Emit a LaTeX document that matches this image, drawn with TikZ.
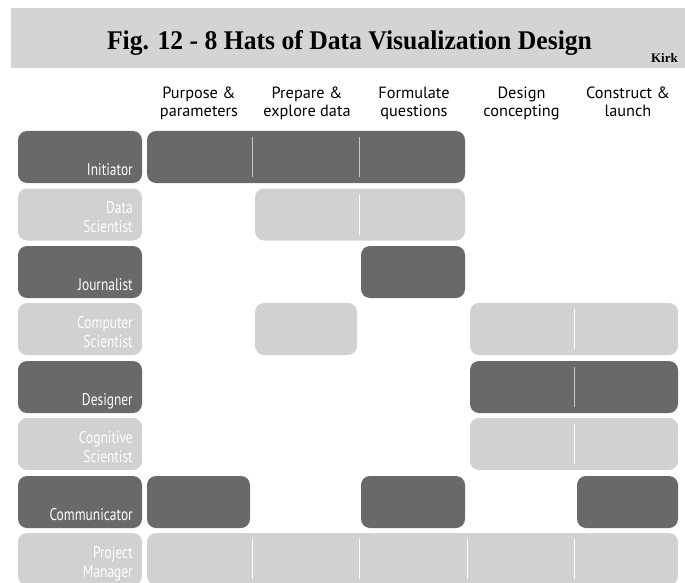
\documentclass[tikz,border=0pt]{standalone}
\usepackage{fontspec}
\setmainfont{Liberation Serif}
\newfontfamily\titlefont[FakeStretch=0.95]{Liberation Serif}
\newfontfamily\hdrfont{PT Sans}
\newfontfamily\lblfont[FakeStretch=0.79]{PT Sans}
\definecolor{hatdark}{RGB}{106,104,105}
\definecolor{hatlight}{RGB}{210,209,210}
\definecolor{bandgray}{RGB}{212,212,212}
\definecolor{darkrule}{RGB}{200,199,200}

\tikzset{
  hatbox/.style={inner sep=0pt, outer sep=0pt, rounded corners=9pt, anchor=north west, minimum height=52pt},
  dark/.style={hatbox, fill=hatdark},
  light/.style={hatbox, fill=hatlight},
  darksep/.style={draw=darkrule, line width=1.6pt},
  lightsep/.style={draw=white, line width=1.6pt},
  rolelabel/.style={anchor=base east, inner sep=0pt, text=white, align=right,
    font=\lblfont\fontsize{17}{19}\selectfont},
  stagelabel/.style={anchor=base, inner sep=0pt, align=center,
    font=\hdrfont\fontsize{16.3}{18}\selectfont},
}

% box spanning from x=#3 to x=#4 with top edge at y=#5
\newcommand\hatbar[5]{%
  \node[#2, minimum width={(#4-#3)*1pt}] (#1) at (#3,#5) {};}
% separator inside a box at x=#2, box top at y=#3
\newcommand\hatsep[3]{%
  \draw[#1] (#2,#3+6) -- (#2,#3+46);}

\begin{document}
\begin{tikzpicture}[x=1pt, y=-1pt]
  \useasboundingbox (0,0) rectangle (685,583);
  \clip (0,0) rectangle (685,583);

  % title band
  \fill[bandgray] (11,8) rectangle (685,68);
  \node[anchor=base, inner sep=0pt, font=\titlefont\bfseries\fontsize{27}{30}\selectfont] (title) at (349.5,50)
    {Fig. 12 - 8 Hats of Data Visualization Design};
  \node[anchor=base east, inner sep=0pt, font=\bfseries\fontsize{13}{15}\selectfont] (author) at (678,63) {Kirk};

  % stage headers (anchored on the baseline of the lower line)
  \node[stagelabel] (h1) at (199,117) {Purpose \&\\parameters};
  \node[stagelabel] (h2) at (307,117) {Prepare \&\\explore data};
  \node[stagelabel] (h3) at (414,117) {Formulate\\questions};
  \node[stagelabel] (h4) at (521.5,117) {Design\\concepting};
  \node[stagelabel] (h5) at (628,117) {Construct \&\\launch};

  % role column
  \hatbar{r1}{dark}{18}{142}{131}
  \hatbar{r2}{light}{18}{142}{188.5}
  \hatbar{r3}{dark}{18}{142}{246}
  \hatbar{r4}{light}{18}{142}{303}
  \hatbar{r5}{dark}{18}{142}{361}
  \hatbar{r6}{light}{18}{142}{418}
  \hatbar{r7}{dark}{18}{142}{476}
  \hatbar{r8}{light}{18}{142}{533}

  % role names, anchored on the baseline of their last line
  \node[rolelabel] (l1) at (133,175) {Initiator};
  \node[rolelabel] (l2) at (133,232.5) {Data\\Scientist};
  \node[rolelabel] (l3) at (133,290) {Journalist};
  \node[rolelabel] (l4) at (133,347) {Computer\\Scientist};
  \node[rolelabel] (l5) at (133,405) {Designer};
  \node[rolelabel] (l6) at (133,462) {Cognitive\\Scientist};
  \node[rolelabel] (l7) at (133,520) {Communicator};
  \node[rolelabel] (l8) at (133,577) {Project\\Manager};

  % Initiator
  \hatbar{i1}{dark}{147}{465}{131}
  \hatsep{darksep}{252.5}{131}
  \hatsep{darksep}{359.5}{131}
  % Data Scientist
  \hatbar{d1}{light}{255}{465}{188.5}
  \hatsep{lightsep}{359.5}{188.5}
  % Journalist
  \hatbar{j1}{dark}{361}{465}{246}
  % Computer Scientist
  \hatbar{c1}{light}{255}{357}{303}
  \hatbar{c2}{light}{470}{678}{303}
  \hatsep{lightsep}{574.5}{303}
  % Designer
  \hatbar{g1}{dark}{470}{678}{361}
  \hatsep{darksep}{574.5}{361}
  % Cognitive Scientist
  \hatbar{k1}{light}{470}{678}{418}
  \hatsep{lightsep}{574.5}{418}
  % Communicator
  \hatbar{m1}{dark}{147}{250}{476}
  \hatbar{m2}{dark}{361}{465}{476}
  \hatbar{m3}{dark}{577}{678}{476}
  % Project Manager
  \hatbar{p1}{light}{147}{678}{533}
  \hatsep{lightsep}{252.5}{533}
  \hatsep{lightsep}{359.5}{533}
  \hatsep{lightsep}{467.5}{533}
  \hatsep{lightsep}{574.5}{533}
\end{tikzpicture}
\end{document}
